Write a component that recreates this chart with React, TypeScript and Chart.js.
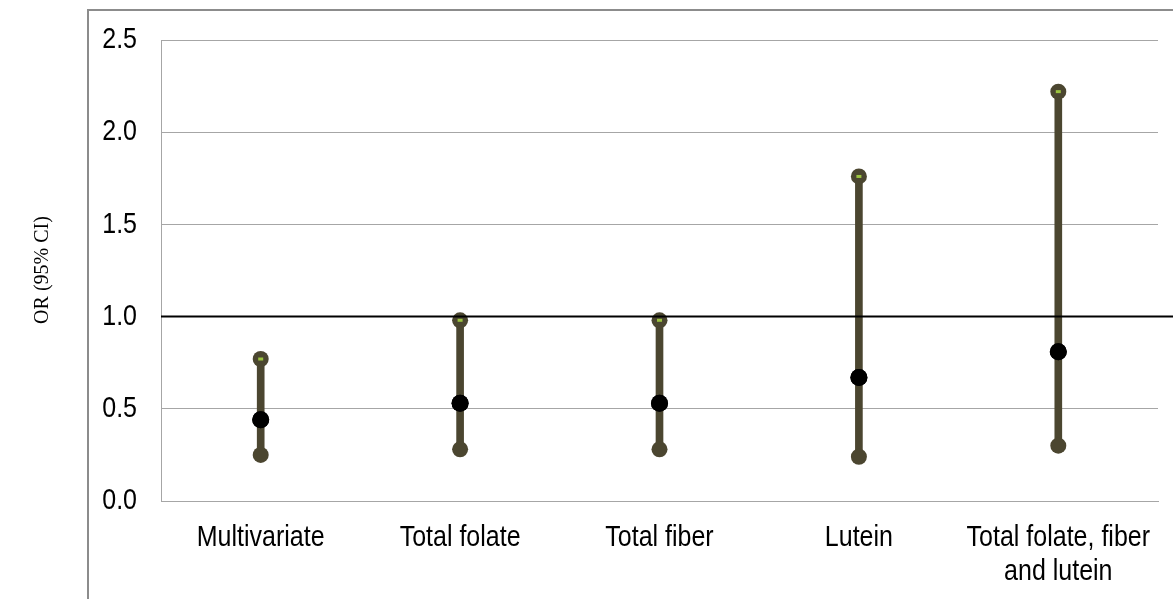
import React, { useEffect, useRef } from "react";
import { Chart, registerables } from "chart.js";

Chart.register(...registerables);

const categories: (string | string[])[] = [
  "Multivariate",
  "Total folate",
  "Total fiber",
  "Lutein",
  ["Total folate, fiber", "and lutein"],
];
const oddsRatio = [0.44, 0.53, 0.53, 0.67, 0.81];
const lowerCI = [0.25, 0.28, 0.28, 0.24, 0.3];
const upperCI = [0.77, 0.98, 0.98, 1.76, 2.22];
const yTicks = [0, 0.5, 1.0, 1.5, 2.0, 2.5];
const referenceValue = 1.0;
const yTitle = "OR (95% CI)";

const CI_COLOR = "#4B4630";
const FONT = '25px "Liberation Sans", Arial, sans-serif';
const STRETCH = 1.2;

function tallText(ctx: any, text: string, x: number, y: number, align: string) {
  ctx.save();
  ctx.translate(x, y);
  ctx.scale(1, STRETCH);
  ctx.textAlign = align;
  ctx.textBaseline = "middle";
  ctx.fillText(text, 0, 0);
  ctx.restore();
}

const decorPlugin = {
  id: "decor",
  beforeDraw(chart: any) {
    const ctx = chart.ctx;
    ctx.save();
    ctx.fillStyle = "#ffffff";
    ctx.fillRect(0, 0, chart.width, chart.height);
    ctx.strokeStyle = "#8C8C8C";
    ctx.lineWidth = 2;
    ctx.strokeRect(88, 10, chart.width + 20, chart.height + 20);
    ctx.fillStyle = "#000";
    ctx.font = '20px "Liberation Serif", "Times New Roman", serif';
    ctx.translate(42, 270);
    ctx.rotate(-Math.PI / 2);
    ctx.scale(1, 1.1);
    ctx.textAlign = "center";
    ctx.textBaseline = "middle";
    ctx.fillText(yTitle, 0, 0);
    ctx.restore();
  },
  afterDatasetsDraw(chart: any) {
    const ctx = chart.ctx;
    const y = chart.scales.y;
    const x = chart.scales.x;
    const yPix = y.getPixelForValue(referenceValue);
    ctx.save();
    ctx.strokeStyle = "#000";
    ctx.lineWidth = 2;
    ctx.beginPath();
    ctx.moveTo(chart.chartArea.left, yPix);
    ctx.lineTo(chart.width, yPix);
    ctx.stroke();
    const meta = chart.getDatasetMeta(1);
    ctx.fillStyle = "#9CC43F";
    meta.data.forEach((pt: any) => {
      ctx.fillRect(pt.x - 2.5, pt.y - 1.5, 5, 3);
    });
    const m3 = chart.getDatasetMeta(3);
    ctx.fillStyle = "#000";
    m3.data.forEach((pt: any) => {
      ctx.beginPath();
      ctx.arc(pt.x, pt.y, 8.5, 0, Math.PI * 2);
      ctx.fill();
    });
    // tick labels (drawn slightly condensed/tall like the reference)
    ctx.fillStyle = "#000";
    ctx.font = FONT;
    y.ticks.forEach((t: any, i: number) => {
      tallText(ctx, Number(t.value).toFixed(1), y.right - 24, y.getPixelForTick(i), "right");
    });
    const labels = chart.data.labels as any[];
    labels.forEach((lab: any, i: number) => {
      const lines = Array.isArray(lab) ? lab : [lab];
      const px = x.getPixelForTick(i);
      lines.forEach((ln: string, j: number) => {
        tallText(ctx, ln, px, chart.chartArea.bottom + 37 + j * 34, "center");
      });
    });
    ctx.restore();
  },
};

export default function App() {
  const ref = useRef<HTMLCanvasElement>(null);
  useEffect(() => {
    document.body.style.margin = "0";
    const chart = new Chart(ref.current!, {
      type: "bar",
      data: {
        labels: categories as any,
        datasets: [
          {
            type: "bar",
            data: lowerCI.map((l, i) => [l, upperCI[i]]) as any,
            backgroundColor: CI_COLOR,
            barThickness: 7,
            order: 4,
          },
          {
            type: "line",
            data: upperCI,
            showLine: false,
            pointRadius: 8,
            pointBackgroundColor: CI_COLOR,
            pointBorderWidth: 0,
            order: 3,
          } as any,
          {
            type: "line",
            data: lowerCI,
            showLine: false,
            pointRadius: 8,
            pointBackgroundColor: CI_COLOR,
            pointBorderWidth: 0,
            order: 2,
          } as any,
          {
            type: "line",
            data: oddsRatio,
            showLine: false,
            pointRadius: 8.5,
            pointBackgroundColor: "#000",
            pointBorderWidth: 0,
            order: 1,
          } as any,
        ],
      },
      options: {
        animation: false,
        responsive: false,
        maintainAspectRatio: false,
        layout: { padding: { top: 40, right: 15, left: 0, bottom: 0 } },
        plugins: { legend: { display: false }, tooltip: { enabled: false } },
        scales: {
          x: {
            grid: { display: false, drawTicks: false },
            border: { display: true, color: "#A6A6A6", width: 1 },
            ticks: {
              padding: 20,
              color: "rgba(0,0,0,0)",
              font: { family: '"Liberation Sans", Arial, sans-serif', size: 25, lineHeight: 1.36 },
              maxRotation: 0,
            },
            afterFit: (s: any) => {
              s.height = 98;
            },
          },
          y: {
            min: 0,
            max: 2.5,
            afterBuildTicks: (s: any) => {
              s.ticks = yTicks.map((v) => ({ value: v }));
            },
            grid: { color: "#A6A6A6", lineWidth: 1, drawTicks: false },
            border: { display: true, color: "#A6A6A6", width: 1 },
            ticks: {
              padding: 24,
              color: "rgba(0,0,0,0)",
              font: { family: '"Liberation Sans", Arial, sans-serif', size: 25 },
              callback: (v: any) => Number(v).toFixed(1),
            },
            afterFit: (s: any) => {
              s.width = 161;
            },
          },
        },
      },
      plugins: [decorPlugin],
    });
    return () => chart.destroy();
  }, []);
  return (
    <div style={{ position: "absolute", left: 0, top: 0, width: 1173, height: 599 }}>
      <canvas ref={ref} width={1173} height={599} style={{ width: 1173, height: 599 }} />
    </div>
  );
}
